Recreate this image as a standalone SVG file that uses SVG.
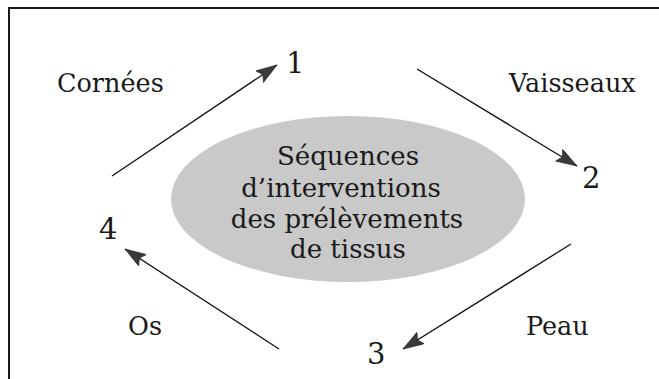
<svg xmlns="http://www.w3.org/2000/svg" width="659" height="379" viewBox="0 0 659 379">
<style>
.lbl{font-family:"DejaVu Serif","Liberation Serif",serif;font-size:25.5px;fill:#1a1a1a}
.num{font-family:"DejaVu Serif","Liberation Serif",serif;font-size:29px;fill:#1a1a1a}
.ctr{font-family:"DejaVu Serif","Liberation Serif",serif;font-size:26px;fill:#1a1a1a;text-anchor:middle}
.conn{stroke:#111;stroke-width:1.3;fill:none;marker-end:url(#ah)}
</style>
<defs>
<marker id="ah" markerUnits="userSpaceOnUse" markerWidth="24" markerHeight="16" refX="21" refY="7" orient="auto">
<polygon points="0,0 21,7 0,14 4,7" fill="#3a3a3a" stroke="#222" stroke-width="0.6"/>
</marker>
</defs>
<rect width="659" height="379" fill="#fff"/>
<g id="frame">
<path d="M9,379 V8 H659" fill="none" stroke="#1a1a1a" stroke-width="2"/>
</g>
<g id="center">
<ellipse cx="348" cy="199" rx="177" ry="83" fill="#c9c9c9"/>
<text class="ctr" x="348" y="165">Séquences</text>
<text class="ctr" x="341" y="197">d’interventions</text>
<text class="ctr" x="347" y="228">des prélèvements</text>
<text class="ctr" x="348" y="258">de tissus</text>
</g>
<g id="n1"><text class="num" x="286" y="73">1</text></g>
<g id="n2"><text class="num" x="582" y="188">2</text></g>
<g id="n3"><text class="num" x="367" y="364">3</text></g>
<g id="n4"><text class="num" x="99" y="239">4</text></g>
<g id="l-cornees"><text class="lbl" x="57" y="92">Cornées</text></g>
<g id="l-vaisseaux"><text class="lbl" x="509" y="92">Vaisseaux</text></g>
<g id="l-peau"><text class="lbl" x="526" y="335">Peau</text></g>
<g id="l-os"><text class="lbl" x="128" y="335">Os</text></g>
<g id="connectors">
<line class="conn" x1="112" y1="176" x2="277" y2="65"/>
<line class="conn" x1="417" y1="69" x2="577" y2="166"/>
<line class="conn" x1="571" y1="244" x2="403" y2="349"/>
<line class="conn" x1="279" y1="349" x2="125" y2="249"/>
</g>
</svg>
